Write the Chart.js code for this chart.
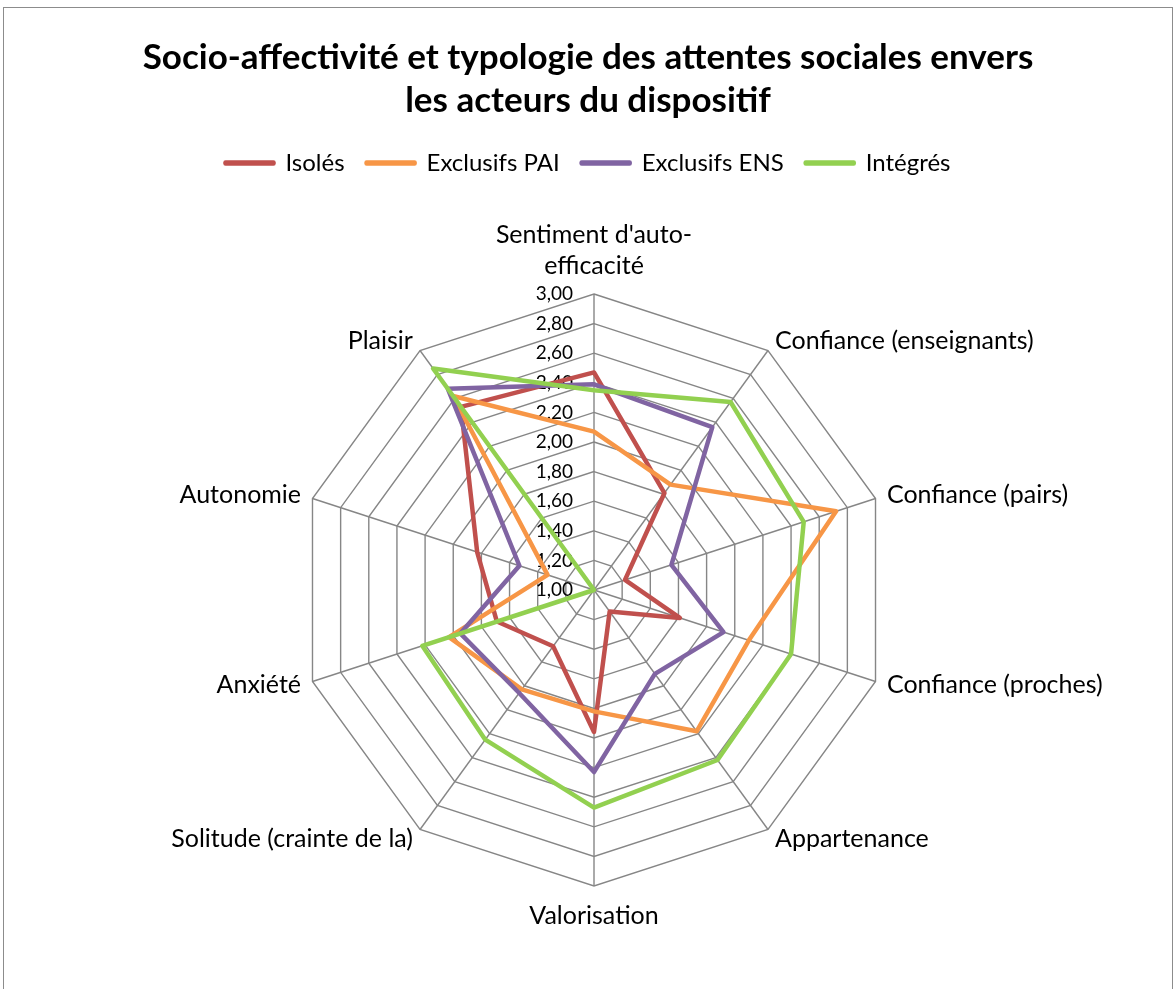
<!DOCTYPE html>
<html lang="fr">
<head>
<meta charset="utf-8">
<title>Socio-affectivité et typologie des attentes sociales</title>
<script src="https://cdn.jsdelivr.net/npm/chart.js@4.4.1/dist/chart.umd.min.js"></script>
<style>
  html, body { margin: 0; padding: 0; background: #fff; overflow: hidden; }
  #frame {
    position: absolute; left: 3px; top: 7px; width: 1170px; height: 1000px;
    border: 1px solid #8c8c8c; box-sizing: border-box;
  }
  #wrap { position: absolute; left: 0; top: 0; width: 1176px; height: 989px; }
</style>
</head>
<body>
<div id="frame"></div>
<div id="wrap"><canvas id="radarChart"></canvas></div>
<script>
// Axes of the radar (first label split on two lines)
const axes = [
  ["Sentiment d'auto-", "efficacité"],
  'Confiance (enseignants)',
  'Confiance (pairs)',
  'Confiance (proches)',
  'Appartenance',
  'Valorisation',
  'Solitude (crainte de la)',
  'Anxiété',
  'Autonomie',
  'Plaisir'
];

// Mean scores per profile
const isoles       = [2.47, 1.81, 1.22, 1.61, 1.18, 1.96, 1.47, 1.69, 1.83, 2.53];
const exclusifsPAI = [2.07, 1.88, 2.72, 2.10, 2.18, 1.82, 1.83, 2.03, 1.33, 2.62];
const exclusifsENS = [2.39, 2.36, 1.55, 1.92, 1.70, 2.23, 1.86, 1.95, 1.53, 2.68];
const integres     = [2.35, 2.57, 2.49, 2.40, 2.42, 2.47, 2.25, 2.22, 1.00, 2.85];

const seriesNames = ['Isolés', 'Exclusifs PAI', 'Exclusifs ENS', 'Intégrés'];
const seriesColors = ['#C0504D', '#F79646', '#8064A2', '#92D050'];

const scaleMin = 1;
const scaleMax = 3;
const scaleStep = 0.2;

const FONT = 'Lato, "Open Sans", sans-serif';

function fmt(v) {
  return v.toFixed(2).replace('.', ',');
}

// value labels on the left of the vertical axis, under the series
const tickLabels = {
  id: 'tickLabels',
  beforeDatasetsDraw(chart) {
    const s = chart.scales.r;
    const ctx = chart.ctx;
    ctx.save();
    ctx.font = '19px ' + FONT;
    ctx.fillStyle = '#000';
    ctx.textAlign = 'right';
    ctx.textBaseline = 'middle';
    s.ticks.forEach(t => {
      const d = s.getDistanceFromCenterForValue(t.value);
      ctx.fillText(fmt(t.value), s.xCenter - 21, s.yCenter - d);
    });
    ctx.restore();
  }
};

// category names around the web
const axisLabels = {
  id: 'axisLabels',
  afterDraw(chart) {
    const s = chart.scales.r;
    const ctx = chart.ctx;
    const lh = 31;
    ctx.save();
    ctx.font = '25px ' + FONT;
    ctx.fillStyle = '#000';
    ctx.textBaseline = 'middle';
    chart.data.labels.forEach((lab, i) => {
      const lines = Array.isArray(lab) ? lab : [lab];
      const a = s.getIndexAngle(i);
      const sin = Math.sin(a), cos = Math.cos(a);
      if (Math.abs(sin) < 0.01) {
        // top or bottom
        const p = s.getPointPosition(i, s.drawingArea);
        ctx.textAlign = 'center';
        lines.forEach((ln, k) => {
          const y = cos > 0
            ? p.y - 28 - (lines.length - 1 - k) * lh
            : p.y + 30 + k * lh;
          ctx.fillText(ln, p.x, y);
        });
      } else {
        const p = s.getPointPosition(i, s.drawingArea + 12);
        ctx.textAlign = sin > 0 ? 'left' : 'right';
        lines.forEach((ln, k) => {
          ctx.fillText(ln, p.x, p.y + (k - (lines.length - 1) / 2) * lh);
        });
      }
    });
    ctx.restore();
  }
};

const seriesData = [isoles, exclusifsPAI, exclusifsENS, integres];

const ctx = document.getElementById('radarChart').getContext('2d');

const radarChart = new Chart(ctx, {
  type: 'radar',
  data: {
    labels: axes,
    datasets: seriesData.map((d, i) => ({
      label: seriesNames[i],
      data: d,
      borderColor: seriesColors[i],
      backgroundColor: seriesColors[i],
      borderWidth: 4.5,
      borderJoinStyle: 'round',
      fill: false,
      tension: 0,
      pointRadius: 0,
      pointHoverRadius: 0,
      order: seriesData.length - i // later series drawn on top
    }))
  },
  options: {
    responsive: true,
    maintainAspectRatio: false,
    animation: false,
    layout: { padding: 0 },
    scales: {
      r: {
        min: scaleMin,
        max: scaleMax,
        beginAtZero: false,
        ticks: { stepSize: scaleStep, display: false },
        grid: { color: '#868686', lineWidth: 1.4 },
        angleLines: { color: '#868686', lineWidth: 1.4 },
        pointLabels: { display: false },
        // centre and radius of the web
        afterFit(scale) {
          scale.xCenter = 594;
          scale.yCenter = 590;
          scale.drawingArea = 296;
        }
      }
    },
    plugins: {
      title: {
        display: true,
        text: ['Socio-affectivité et typologie des attentes sociales envers', 'les acteurs du dispositif'],
        color: '#000',
        font: { family: FONT, size: 35, weight: 'bold', lineHeight: 1.23 },
        padding: { top: 36, bottom: 7 }
      },
      legend: {
        display: true,
        position: 'top',
        labels: {
          color: '#000',
          font: { family: FONT, size: 24 },
          boxWidth: 48,
          boxHeight: 1,
          padding: 22,
          sort: (a, b) => a.datasetIndex - b.datasetIndex
        }
      },
      tooltip: { enabled: false }
    }
  },
  plugins: [tickLabels, axisLabels]
});
</script>
</body>
</html>
